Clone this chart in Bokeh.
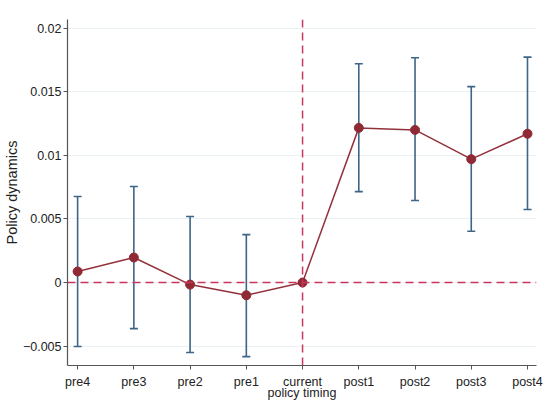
from bokeh.plotting import figure
from bokeh.models import ColumnDataSource, Whisker, Span, FixedTicker, Range1d
from bokeh.embed import file_html
from bokeh.resources import INLINE

categories = ["pre4", "pre3", "pre2", "pre1", "current", "post1", "post2", "post3", "post4"]
estimates = [0.00087, 0.00197, -0.00016, -0.00100, 0.0, 0.01216, 0.01200, 0.00970, 0.01170]
ci_upper = [0.00676, 0.00755, 0.00519, 0.00377, None, 0.01720, 0.01767, 0.01540, 0.01772]
ci_lower = [-0.00503, -0.00362, -0.00550, -0.00582, None, 0.00715, 0.00645, 0.00403, 0.00574]
y_ticks = [-0.005, 0, 0.005, 0.01, 0.015, 0.02]
y_tick_labels = ["\u22120.005", "0", "0.005", "0.01", "0.015", "0.02"]

xs = list(range(1, len(categories) + 1))
FONT = "Liberation Sans"

p = figure(width=546, height=402, output_backend="svg", toolbar_location=None,
           x_range=Range1d(0.82, 9.16), y_range=Range1d(-0.00652, 0.02068),
           min_border_left=10, min_border_right=10, min_border_top=19, min_border_bottom=0)
p.outline_line_color = None
p.background_fill_color = "white"
p.border_fill_color = "white"

# grid
p.xgrid.grid_line_color = None
p.ygrid.grid_line_color = "#eaf1f3"
p.ygrid.grid_line_width = 1

# CI whiskers
ci_x = [x for x, u in zip(xs, ci_upper) if u is not None]
ci_u = [u for u in ci_upper if u is not None]
ci_l = [l for l in ci_lower if l is not None]
src_ci = ColumnDataSource(dict(x=ci_x, upper=ci_u, lower=ci_l))
w = Whisker(source=src_ci, base="x", upper="upper", lower="lower",
            line_color="#3e6488", line_width=1.6)
w.upper_head.size = 8
w.lower_head.size = 8
w.upper_head.line_color = "#3e6488"
w.lower_head.line_color = "#3e6488"
w.upper_head.line_width = 1.6
w.lower_head.line_width = 1.6
p.add_layout(w)

# reference lines
p.add_layout(Span(location=0, dimension="width", line_color="#c8375c",
                  line_dash="8 5", line_width=1.5))
p.add_layout(Span(location=5, dimension="height", line_color="#c8375c",
                  line_dash="8 5", line_width=1.5))

# estimates
src = ColumnDataSource(dict(x=xs, y=estimates))
p.line("x", "y", source=src, line_color="#94323c", line_width=1.5)
p.scatter("x", "y", source=src, size=9, fill_color="#8f2a35", line_color="#8f2a35")

# axes
p.xaxis.ticker = FixedTicker(ticks=xs)
p.xaxis.major_label_overrides = {x: c for x, c in zip(xs, categories)}
p.yaxis.ticker = FixedTicker(ticks=y_ticks)
p.yaxis.major_label_overrides = {t: l for t, l in zip(y_ticks, y_tick_labels)}

for ax in (p.xaxis[0], p.yaxis[0]):
    ax.axis_line_color = "#555555"
    ax.axis_line_width = 1.2
    ax.major_tick_line_color = "#555555"
    ax.major_tick_out = 4
    ax.major_tick_in = 0
    ax.minor_tick_line_color = None
    ax.major_label_text_font = FONT
    ax.major_label_text_font_size = "12.5px"
    ax.major_label_text_color = "#222222"
    ax.major_label_text_line_height = 1.0
    ax.axis_label_text_font = FONT
    ax.axis_label_text_font_style = "normal"
    ax.axis_label_text_color = "#222222"
    ax.axis_label_text_line_height = 1.0

p.xaxis.axis_label = "policy timing"
p.xaxis.axis_label_text_font_size = "12.5px"
p.xaxis.axis_label_standoff = -6
p.xaxis.major_label_standoff = 5
p.yaxis.axis_label = "Policy dynamics"
p.yaxis.axis_label_text_font_size = "14.5px"
p.yaxis.axis_label_standoff = 0
p.yaxis.major_label_standoff = 2

open("out.html", "w").write(file_html(p, INLINE))
